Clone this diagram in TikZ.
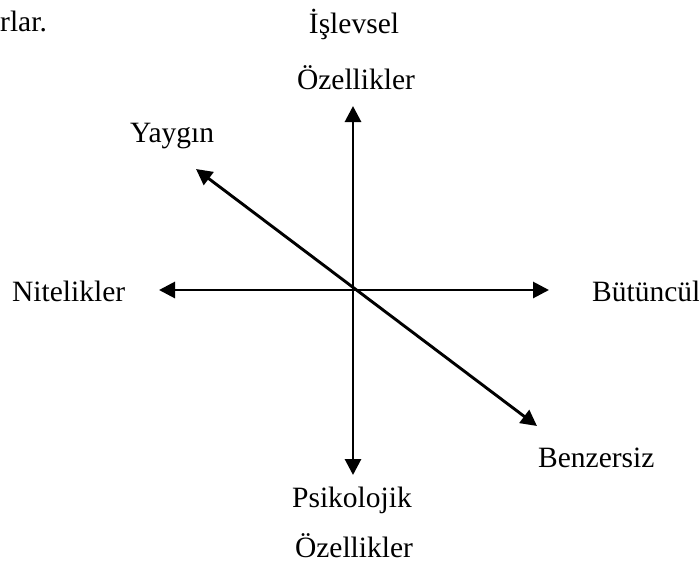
\documentclass[tikz,border=0pt]{standalone}
\usepackage{fontspec}
\setmainfont{Liberation Serif}
\usetikzlibrary{arrows.meta}
\begin{document}
\begin{tikzpicture}[x=1pt,y=-1pt,
  lbl/.style={inner sep=0pt,anchor=base,font=\fontsize{29.5}{34}\selectfont},
  lblw/.style={lbl,anchor=base west},
  axis/.style={line width=2.9pt,{Triangle[length=16pt,width=16pt]}-{Triangle[length=16pt,width=16pt]}}]
\useasboundingbox (0,0) rectangle (699,571);
\coordinate (c) at (353,290);
\coordinate (top) at (353,106);
\coordinate (bot) at (353,475);
\coordinate (lft) at (159,290);
\coordinate (rgt) at (549,290);
\coordinate (ul) at (196,169);
\coordinate (lr) at (537,426);
\draw[axis] (top) -- (bot);
\draw[axis] (lft) -- (rgt);
\draw[axis] (ul) -- (lr);
\node[lblw] (frag) at (0,31) {rlar.};
\node[lbl] (isl) at (354,33) {İşlevsel};
\node[lbl] (oz1) at (356,89) {Özellikler};
\node[lblw] (yay) at (130,142) {Yaygın};
\node[lblw] (nit) at (12,301) {Nitelikler};
\node[lblw] (but) at (592,301) {Bütüncül};
\node[lblw] (ben) at (538,467) {Benzersiz};
\node[lbl] (psi) at (352,507) {Psikolojik};
\node[lbl] (oz2) at (354,557) {Özellikler};
\end{tikzpicture}
\end{document}
